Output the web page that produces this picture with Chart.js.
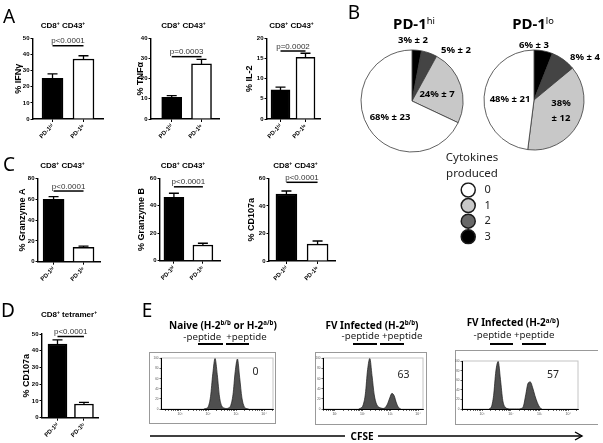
<!DOCTYPE html>
<html>
<head>
<meta charset="utf-8">
<script src="https://cdn.jsdelivr.net/npm/chart.js@4.4.1/dist/chart.umd.min.js"></script>
<style>
  body { margin: 0; background: #fff; }
  #fig { position: relative; width: 603px; height: 443px; overflow: hidden; background: #fff; }
  canvas { position: absolute; }
  .t { position: absolute; white-space: nowrap; transform: translate(-50%, -50%); line-height: 1; color: #000; }
  .sup { font-size: 0.62em; position: relative; top: -0.55em; }
  .fbox { position: absolute; box-sizing: border-box; border: 1px solid #999; }
  .pbar { position: absolute; height: 2px; background: #000; }
</style>
</head>
<body>
<div id="fig"></div>
<script>
const groups = ['PD-1ʰⁱ', 'PD-1ˡᵒ'];

// panels A, C, D: mean and error (%)
const ifng = [25.2, 37.2], ifngErr = [2.7, 2.0];
const tnfa = [10.7, 27.3], tnfaErr = [0.9, 2.3];
const il2 = [7.2, 15.3], il2Err = [0.7, 1.0];
const gzmA = [59.9, 13.8], gzmAErr = [2.5, 1.2];
const gzmB = [46.2, 11.4], gzmBErr = [2.9, 1.3];
const cd107 = [48.6, 12.3], cd107Err = [2.2, 2.2];
const tetCd107 = [44.0, 8.2], tetCd107Err = [2.5, 1.0];

// panel B: slices in order 3, 2, 1, 0 cytokines
const cytokineLevels = ['0', '1', '2', '3'];
const hiPct = [3, 5, 24, 68], hiSd = [2, 2, 7, 23];
const loPct = [6, 8, 38, 48], loSd = [3, 4, 12, 21];

// panel E: CFSE histograms (log10 CFSE, % of max count)
const naiveCfse = [1.85, 1.93, 2.01, 2.09, 2.17, 2.25, 2.33, 2.41, 2.49, 2.57, 2.65, 2.73, 2.81, 2.89, 2.97, 3.05, 3.13, 3.21, 3.29, 3.37, 3.45];
const naiveCount = [0, 1, 5, 25, 70, 100, 68, 24, 6, 2, 1, 2, 7, 28, 74, 99, 62, 22, 5, 1, 0];
const bbCfse = [1.86, 1.94, 2.02, 2.10, 2.18, 2.26, 2.34, 2.42, 2.50, 2.58, 2.66, 2.74, 2.82, 2.90, 2.98, 3.06, 3.14, 3.22, 3.30, 3.38];
const bbCount = [0, 2, 8, 30, 78, 100, 66, 28, 10, 4, 2, 1, 3, 10, 22, 31, 26, 12, 3, 0];
const abCfse = [1.24, 1.32, 1.40, 1.48, 1.56, 1.64, 1.72, 1.80, 1.88, 1.96, 2.04, 2.12, 2.20, 2.28, 2.36, 2.44, 2.52, 2.60, 2.68, 2.76, 2.84, 2.92, 3.00, 3.08];
const abCount = [0, 4, 28, 80, 100, 62, 18, 4, 1, 0, 0, 0, 0, 0, 1, 6, 30, 54, 57, 45, 28, 14, 4, 0];
const killedPct = [0, 63, 57];
const decades = [1, 2, 3, 4];
const supDigits = { 1: '¹', 2: '²', 3: '³', 4: '⁴' };
const minorLogs = [0.301, 0.477, 0.602, 0.699, 0.778, 0.845, 0.903, 0.954];
const flowCounts = [0, 20, 40, 60, 80, 100];

const ARIAL = "'Liberation Sans', Arial, sans-serif";
const CALIBRI = "'Noto Sans', sans-serif";
const fig = document.getElementById('fig');

function txt(html, cx, cy, css) {
  const d = document.createElement('div');
  d.className = 't';
  d.innerHTML = html;
  d.style.cssText = `left:${cx}px;top:${cy}px;${css}`;
  fig.appendChild(d);
}

function canvasAt(left, top, w, h) {
  const c = document.createElement('canvas');
  c.width = w; c.height = h;
  c.style.left = left + 'px'; c.style.top = top + 'px';
  c.style.width = w + 'px'; c.style.height = h + 'px';
  fig.appendChild(c);
  return c;
}

// error bars + p value bracket
const barMarks = {
  id: 'barMarks',
  afterDatasetsDraw(chart, args, o) {
    const { ctx } = chart;
    const y = chart.scales.y;
    const ds = chart.data.datasets[0];
    const bars = chart.getDatasetMeta(0).data;
    ctx.save();
    ctx.strokeStyle = '#000';
    ctx.lineWidth = 1.3;
    bars.forEach((b, i) => {
      const yTop = y.getPixelForValue(ds.data[i].y + ds.err[i]);
      ctx.beginPath();
      ctx.moveTo(b.x, b.y); ctx.lineTo(b.x, yTop);
      ctx.moveTo(b.x - 5, yTop); ctx.lineTo(b.x + 5, yTop);
      ctx.stroke();
    });
    const ly = y.getPixelForValue(o.sig);
    ctx.lineWidth = 1.5;
    ctx.beginPath();
    ctx.moveTo(bars[0].x, ly); ctx.lineTo(bars[1].x, ly);
    ctx.stroke();
    ctx.fillStyle = '#333';
    ctx.font = `8px ${ARIAL}`;
    ctx.textAlign = 'center';
    ctx.textBaseline = 'alphabetic';
    ctx.fillText(o.p, (bars[0].x + bars[1].x) / 2, ly - 2.5);
    ctx.restore();
  }
};

function barPanel(L) {
  const YW = 26, XH = 24;
  const left = Math.floor(L.x0 - YW), top = Math.floor(L.y0 - 24);
  const w = Math.ceil(L.x1 - left + 6), h = Math.ceil(L.y1 - top + XH);
  const cv = canvasAt(left, top, w, h);
  const tick = { size: 6, weight: 'bold', family: ARIAL };
  new Chart(cv, {
    type: 'bar',
    data: {
      datasets: [{
        data: L.mean.map((v, i) => ({ x: i + 1, y: v })),
        err: L.err,
        backgroundColor: ['#000', '#fff'],
        borderColor: '#000',
        borderWidth: 1.5,
        barThickness: L.bw
      }]
    },
    options: {
      responsive: false, animation: false, events: [],
      layout: { padding: { left: L.x0 - YW - left, top: L.y0 - top, right: w - (L.x1 - left), bottom: h - XH - (L.y1 - top) } },
      plugins: { legend: { display: false }, tooltip: { enabled: false }, barMarks: { p: L.p, sig: L.sig } },
      scales: {
        x: {
          type: 'linear', min: L.xmin, max: L.xmax, offset: false,
          afterBuildTicks: s => { s.ticks = [{ value: 1 }, { value: 2 }]; },
          afterFit: s => { s.height = XH; },
          grid: { drawOnChartArea: false, offset: false, tickLength: 3, color: '#000' },
          border: { color: '#000', width: 1.4 },
          ticks: { callback: v => groups[v - 1], minRotation: 45, maxRotation: 45, autoSkip: false, font: tick, color: '#000', padding: 1 }
        },
        y: {
          min: 0, max: L.max,
          afterFit: s => { s.width = YW; },
          ticks: { stepSize: L.step, font: tick, color: '#000', padding: 1 },
          grid: { drawOnChartArea: false, tickLength: 2.5, color: '#000' },
          border: { color: '#000', width: 1.4 },
          title: { display: true, text: L.ytitle, color: '#000', font: { size: 9, weight: 'bold', family: ARIAL }, padding: { top: YW - L.yt - 5.4, bottom: 0 } }
        }
      }
    },
    plugins: [barMarks]
  });
}

const cdTitle = 'CD8<span class="sup">+</span> CD43<span class="sup">+</span>';
const barTitle = `font:bold 8px ${ARIAL}`;

barPanel({ mean: ifng, err: ifngErr, p: 'p<0.0001', sig: 45.4, ytitle: '% IFNγ', yt: 14, x0: 33, x1: 103, y0: 38.3, y1: 119, max: 50, step: 10, xmin: 0.37, xmax: 2.63, bw: 21 });
barPanel({ mean: tnfa, err: tnfaErr, p: 'p=0.0003', sig: 30.9, ytitle: '% TNFα', yt: 10.5, x0: 151, x1: 219, y0: 38.3, y1: 119, max: 40, step: 10, xmin: 0.305, xmax: 2.587, bw: 20 });
barPanel({ mean: il2, err: il2Err, p: 'p=0.0002', sig: 16.85, ytitle: '% IL-2', yt: 17, x0: 267, x1: 320, y0: 38.3, y1: 119, max: 20, step: 5, xmin: 0.46, xmax: 2.58, bw: 19 });
barPanel({ mean: gzmA, err: gzmAErr, p: 'p<0.0001', sig: 67.8, ytitle: '% Granzyme A', yt: 15.5, x0: 38, x1: 100, y0: 178.3, y1: 261.7, max: 80, step: 20, xmin: 0.48, xmax: 2.55, bw: 21 });
barPanel({ mean: gzmB, err: gzmBErr, p: 'p<0.0001', sig: 53.8, ytitle: '% Granzyme B', yt: 18, x0: 160, x1: 220, y0: 178.3, y1: 260.7, max: 60, step: 20, xmin: 0.52, xmax: 2.59, bw: 20 });
barPanel({ mean: cd107, err: cd107Err, p: 'p<0.0001', sig: 57.1, ytitle: '% CD107a', yt: 17, x0: 269, x1: 335, y0: 178.3, y1: 261, max: 60, step: 20, xmin: 0.44, xmax: 2.56, bw: 21 });
barPanel({ mean: tetCd107, err: tetCd107Err, p: 'p<0.0001', sig: 48.5, ytitle: '% CD107a', yt: 15.5, x0: 42, x1: 98, y0: 334, y1: 417.7, max: 50, step: 10, xmin: 0.415, xmax: 2.53, bw: 19 });

txt(cdTitle, 63, 25, barTitle);
txt(cdTitle, 183.5, 25, barTitle);
txt(cdTitle, 291.5, 25, barTitle);
txt(cdTitle, 62.5, 165, barTitle);
txt(cdTitle, 183, 165, barTitle);
txt(cdTitle, 295.5, 165, barTitle);
txt('CD8<span class="sup">+</span> tetramer<span class="sup">+</span>', 69, 314, barTitle);

// panel B pies
const pieColors = ['#000', '#444', '#c8c8c8', '#fff'];
const legendColors = ['#fff', '#c8c8c8', '#686868', '#000'];

const pieLabels = {
  id: 'pieLabels',
  afterDatasetsDraw(chart, args, o) {
    const { ctx } = chart;
    const arc = chart.getDatasetMeta(0).data[0];
    const ds = chart.data.datasets[0];
    ctx.save();
    ctx.fillStyle = '#000';
    ctx.font = `bold 9.5px ${CALIBRI}`;
    ctx.textAlign = 'center';
    ctx.textBaseline = 'middle';
    ds.data.forEach((v, i) => {
      const [dx, dy, split] = o.pos[i];
      if (split) {
        ctx.fillText(`${v}%`, arc.x + dx, arc.y + dy);
        ctx.fillText(`± ${ds.sd[i]}`, arc.x + dx, arc.y + dy + 15);
      } else {
        ctx.fillText(`${v}% ± ${ds.sd[i]}`, arc.x + dx, arc.y + dy);
      }
    });
    ctx.restore();
  }
};

function piePanel(L, pct, sd) {
  const bw = 0.8, PL = 10, PR = 20, PT = 62, PB = 4;
  const size = 2 * L.r + bw;
  const left = Math.floor(L.cx - size / 2 - PL), top = Math.floor(L.cy - size / 2 - PT);
  const w = Math.ceil(L.cx + size / 2 + PR - left), h = Math.ceil(L.cy + size / 2 + PB - top);
  const cv = canvasAt(left, top, w, h);
  new Chart(cv, {
    type: 'pie',
    data: { labels: ['3', '2', '1', '0'], datasets: [{ data: pct, sd: sd, backgroundColor: pieColors, borderColor: '#3a3a3a', borderWidth: bw }] },
    options: {
      responsive: false, animation: false, events: [],
      layout: { padding: { left: L.cx - size / 2 - left, top: L.cy - size / 2 - top, right: w - (L.cx + size / 2 - left), bottom: h - (L.cy + size / 2 - top) } },
      plugins: { legend: { display: false }, tooltip: { enabled: false }, pieLabels: { pos: L.pos } }
    },
    plugins: [pieLabels]
  });
}

piePanel({ cx: 412, cy: 101, r: 51, pos: [[1, -61], [44, -51], [25, -7], [-22, 16]] }, hiPct, hiSd);
piePanel({ cx: 534, cy: 100, r: 50, pos: [[0, -55], [51, -43], [27, 3, true], [-24, -1]] }, loPct, loSd);

txt('PD-1<span class="sup" style="font-weight:normal">hi</span>', 414, 23, `font:bold 15px ${CALIBRI}`);
txt('PD-1<span class="sup" style="font-weight:normal">lo</span>', 533, 23, `font:bold 15px ${CALIBRI}`);

// legend of cytokines produced
const legendLabels = {
  id: 'legendLabels',
  afterDatasetsDraw(chart) {
    const { ctx } = chart;
    ctx.save();
    ctx.fillStyle = '#222';
    ctx.font = `11px ${CALIBRI}`;
    ctx.textAlign = 'center';
    ctx.textBaseline = 'middle';
    chart.getDatasetMeta(0).data.forEach((p, i) => ctx.fillText(cytokineLevels[i], p.x + 19.5, p.y));
    ctx.restore();
  }
};
new Chart(canvasAt(440, 145, 64, 108), {
  type: 'scatter',
  data: { datasets: [{ data: cytokineLevels.map((c, i) => ({ x: 0, y: i })), pointRadius: 7, pointBackgroundColor: legendColors, pointBorderColor: '#1a1a1a', pointBorderWidth: 1.5 }] },
  options: {
    responsive: false, animation: false, events: [],
    layout: { padding: 0 },
    plugins: {
      legend: { display: false }, tooltip: { enabled: false },
      title: { display: true, text: ['Cytokines', 'produced'], color: '#222', font: { family: CALIBRI, size: 11.5, weight: 'normal', lineHeight: 1.4 }, padding: { top: 5, bottom: 0 } }
    },
    scales: { x: { display: false, min: -0.42, max: 0.58 }, y: { display: false, min: -0.5, max: 3.5, reverse: true } }
  },
  plugins: [legendLabels]
});

// panel E flow histograms
const flowMarks = {
  id: 'flowMarks',
  beforeDraw(chart) {
    const { ctx, chartArea: a } = chart;
    ctx.save();
    ctx.strokeStyle = '#c4c4c4';
    ctx.lineWidth = 1;
    ctx.strokeRect(a.left, a.top, a.width, a.height);
    ctx.restore();
  },
  afterDraw(chart, args, o) {
    const { ctx } = chart;
    ctx.save();
    ctx.fillStyle = '#222';
    ctx.font = `10.5px ${CALIBRI}`;
    ctx.textAlign = 'center';
    ctx.textBaseline = 'middle';
    ctx.fillText(String(o.pct), o.x, o.y);
    ctx.restore();
  }
};

function decadeTicks(min, max) {
  const t = [];
  [0, ...decades].forEach(d => {
    if (d > 0 && d >= min && d <= max) t.push({ value: d });
    minorLogs.forEach(m => { const v = d + m; if (v >= min && v <= max) t.push({ value: v }); });
  });
  return t.sort((a, b) => a.value - b.value);
}

function flowPanel(L, xs, ys, pct) {
  const box = document.createElement('div');
  box.className = 'fbox';
  box.style.cssText = `left:${L.bx0}px;top:${L.by0}px;width:${L.bx1 - L.bx0}px;height:${L.by1 - L.by0}px;${L.open ? 'border-right:none;' : ''}`;
  fig.appendChild(box);
  const w = L.bx1 - L.bx0, h = L.by1 - L.by0;
  const cv = canvasAt(L.bx0, L.by0, w, h);
  const YW = L.ix0 - L.bx0, XH = L.by1 - L.iy1;
  new Chart(cv, {
    type: 'line',
    data: { datasets: [{ data: xs.map((x, i) => ({ x, y: ys[i] })), fill: 'origin', backgroundColor: '#4f4f4f', borderColor: '#1a1a1a', borderWidth: 0.7, pointRadius: 0, cubicInterpolationMode: 'monotone' }] },
    options: {
      responsive: false, animation: false, events: [],
      layout: { padding: { left: 0, top: L.iy0 - L.by0, right: L.bx1 - L.ix1, bottom: 0 } },
      plugins: { legend: { display: false }, tooltip: { enabled: false }, flowMarks: { pct, x: L.nx - L.bx0, y: L.ny - L.by0 } },
      scales: {
        x: {
          type: 'linear', min: L.xmin, max: L.xmax,
          afterFit: s => { s.height = XH; },
          afterBuildTicks: s => { s.ticks = decadeTicks(L.xmin, L.xmax); },
          ticks: { autoSkip: false, minRotation: 0, maxRotation: 0, font: { size: 3.5, family: ARIAL }, color: '#555', padding: 1, callback: v => Number.isInteger(v) ? '10' + supDigits[v] : '' },
          grid: { drawOnChartArea: false, tickLength: 2, color: '#000', lineWidth: 0.6 },
          border: { color: '#000', width: 1 }
        },
        y: {
          min: 0, max: 101,
          afterFit: s => { s.width = YW; },
          afterBuildTicks: s => { s.ticks = flowCounts.map(v => ({ value: v })); },
          ticks: { font: { size: 3, family: ARIAL }, color: '#555', padding: 1 },
          grid: { drawOnChartArea: false, tickLength: 1.5, color: '#000', lineWidth: 0.6 },
          border: { color: '#000', width: 1 }
        }
      }
    },
    plugins: [flowMarks]
  });
}

flowPanel({ bx0: 149, by0: 352, bx1: 276, by1: 424, ix0: 161, ix1: 273, iy0: 358, iy1: 409, xmin: 0.32, xmax: 4.32, nx: 255.5, ny: 372 }, naiveCfse, naiveCount, killedPct[0]);
flowPanel({ bx0: 315, by0: 352, bx1: 427, by1: 425, ix0: 323, ix1: 423, iy0: 358, iy1: 409, xmin: 0.57, xmax: 4.18, nx: 403.5, ny: 375 }, bbCfse, bbCount, killedPct[1]);
flowPanel({ bx0: 455, by0: 350, bx1: 598, by1: 425, ix0: 462, ix1: 578, iy0: 361, iy1: 409, xmin: 0.30, xmax: 4.34, nx: 553, ny: 375, open: true }, abCfse, abCount, killedPct[2]);

const eTitle = `font:bold 10px ${CALIBRI}`;
const eSub = `font:9.7px ${CALIBRI};color:#222`;
txt('Naive (H-2<span class="sup">b/b</span> or H-2<span class="sup">a/b</span>)', 223, 324.5, eTitle);
txt('FV Infected (H-2<span class="sup">b/b</span>)', 372, 324.5, eTitle);
txt('FV Infected (H-2<span class="sup">a/b</span>)', 513, 322, eTitle);
txt('-peptide&nbsp;&nbsp;+peptide', 225, 335.5, eSub);
txt('-peptide +peptide', 382, 335, eSub);
txt('-peptide +peptide', 514, 334, eSub);
[[198, 223], [226, 249], [353, 377], [380, 404], [490, 513], [522, 546]].forEach(([a, b]) => {
  const d = document.createElement('div');
  d.className = 'pbar';
  d.style.cssText = `left:${a}px;top:343px;width:${b - a}px;`;
  fig.appendChild(d);
});

const svgNS = 'http://www.w3.org/2000/svg';
const svg = document.createElementNS(svgNS, 'svg');
svg.setAttribute('width', 603); svg.setAttribute('height', 443);
svg.style.cssText = 'position:absolute;left:0;top:0';
svg.innerHTML = '<line x1="150" y1="436" x2="345" y2="436" stroke="#000" stroke-width="1.5"/>' +
  '<line x1="378" y1="436" x2="582" y2="436" stroke="#000" stroke-width="1.5"/>' +
  '<polyline points="575,432 582,436 575,440" fill="none" stroke="#000" stroke-width="1.4"/>';
fig.appendChild(svg);
txt('CFSE', 362, 436, `font:bold 10px ${CALIBRI}`);

// panel letters
const letter = `font:19px ${CALIBRI}`;
txt('A', 9, 16, letter);
txt('B', 354, 12, letter);
txt('C', 9, 164, letter);
txt('D', 8, 310, letter);
txt('E', 147, 310, letter);
</script>
</body>
</html>
